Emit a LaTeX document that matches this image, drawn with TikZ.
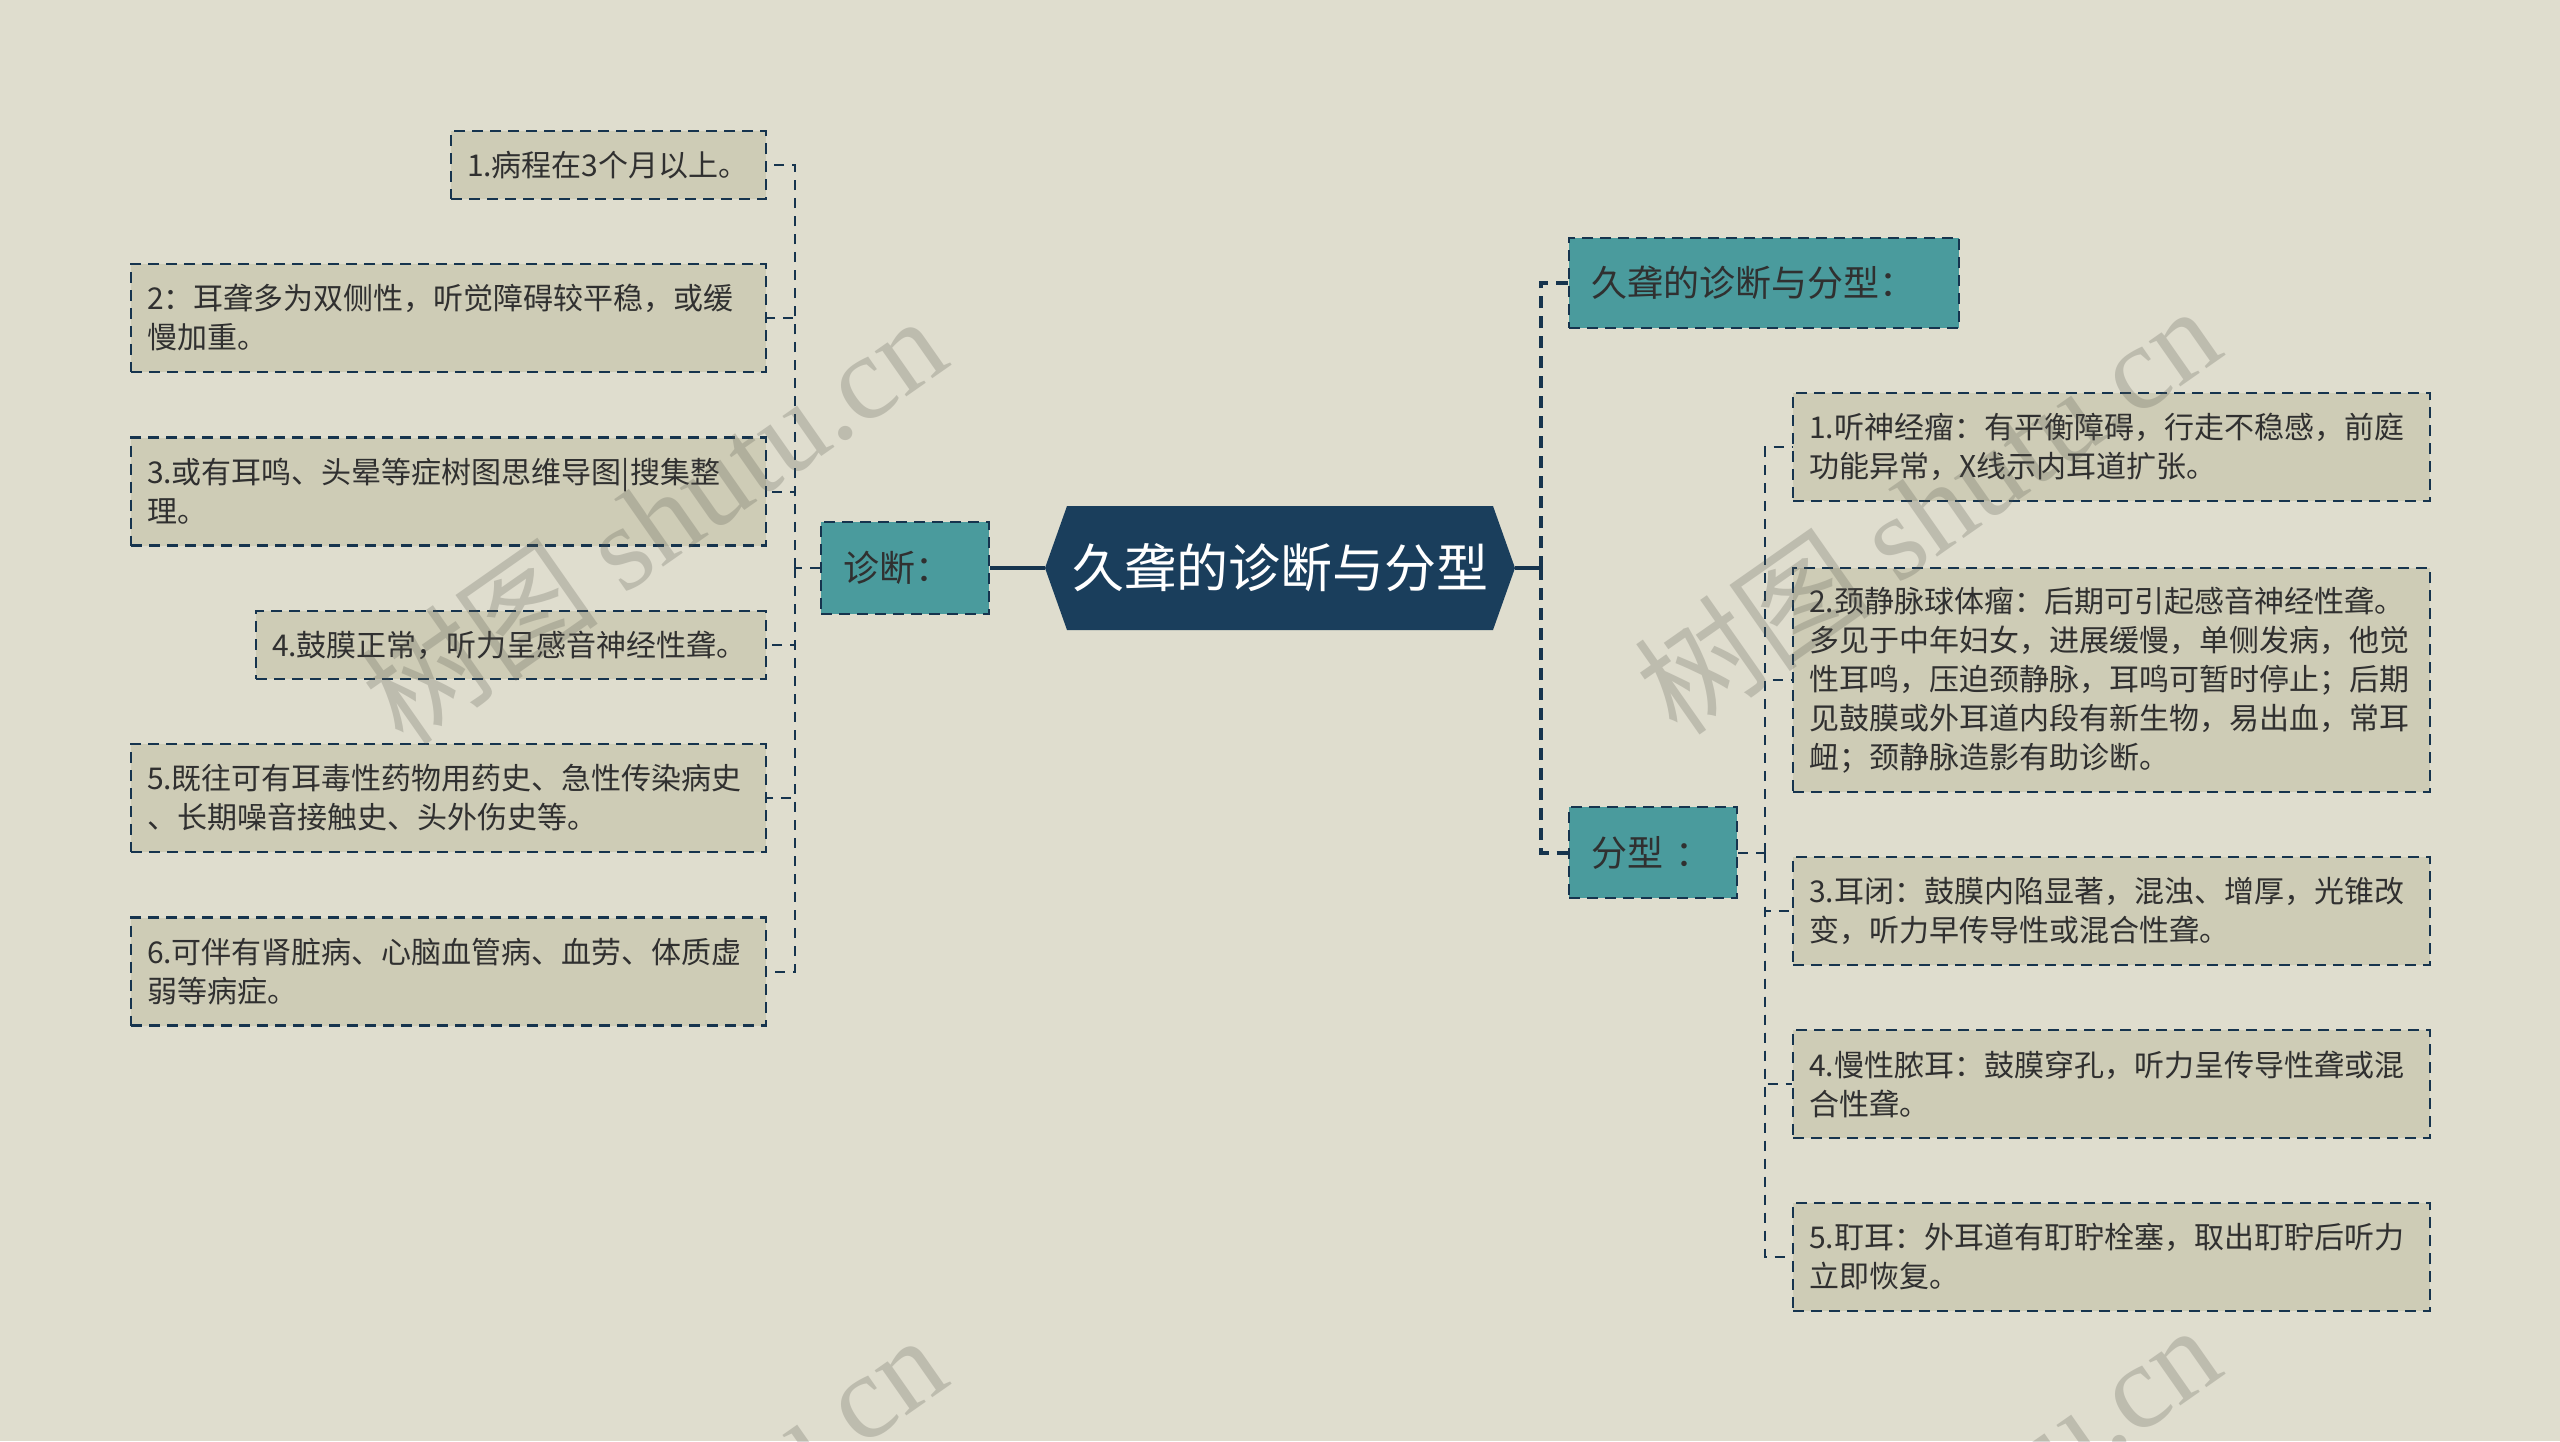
\documentclass[tikz,border=0pt]{standalone}
\usepackage{fontspec}
\setmainfont{Noto Sans CJK SC}
\newfontfamily\wmserif{Liberation Serif}
\newfontfamily\wmcjk{Noto Sans CJK SC}
\definecolor{bgc}{HTML}{DFDDCE}
\definecolor{leafc}{HTML}{CECCB6}
\definecolor{tealc}{HTML}{4A9B9D}
\definecolor{rootc}{HTML}{1A3E5C}
\definecolor{linec}{HTML}{16344E}
\definecolor{txtc}{HTML}{303030}
\definecolor{wmc}{HTML}{5A5A50}
\begin{document}
\begin{tikzpicture}[x=0.5pt,y=-0.5pt,
  leaf/.style={draw=linec, line width=1.2pt, dash pattern=on 5.5pt off 3.5pt,
    fill=leafc, text=txtc, font=\fontsize{15}{19.5}\selectfont, align=left,
    inner xsep=8pt, inner ysep=0pt},
  tealbox/.style={draw=linec, line width=1.2pt, dash pattern=on 5.5pt off 3.5pt,
    fill=tealc, text=txtc, font=\fontsize{18}{22}\selectfont, align=left,
    inner xsep=11pt, inner ysep=0pt},
  conn/.style={draw=linec, line width=1pt, dash pattern=on 5pt off 4pt},
  mainline/.style={draw=linec, line width=2pt},
  maindash/.style={draw=linec, line width=2pt, dash pattern=on 6pt off 4pt},
  wm/.style={text=wmc, opacity=0.25, rotate=35, inner sep=0pt}
]
\fill[bgc] (0,0) rectangle (2560,1441);
\useasboundingbox (0,0) rectangle (2560,1441);

% root hexagon
\fill[rootc] (1045,568) -- (1067,506) -- (1493,506) -- (1515,568) -- (1493,630) -- (1067,630) -- cycle;
\node[minimum width=235pt, minimum height=62pt, inner sep=0pt, text=white,
  font=\fontsize{26}{30}\selectfont] (root) at (1280,568) {久聋的诊断与分型};

% first level
\node[tealbox, minimum height=46pt, text width=62pt] (diag) at (905,568) {诊断：};
\node[tealbox, minimum height=45pt, text width=173pt] (t1) at (1764,283) {久聋的诊断与分型：};
\node[tealbox, minimum height=45.5pt, text width=62pt] (t2) at (1653,852.5) {分型 ：};

% left leaves
\node[leaf, minimum height=34pt, text width=141.5pt] (l1) at (608.5,165) {1.病程在3个月以上。};
\node[leaf, minimum height=54pt, text width=301.5pt] (l2) at (448.5,318) {2：耳聋多为双侧性，听觉障碍较平稳，或缓\\慢加重。};
\node[leaf, minimum height=54pt, text width=301.5pt] (l3) at (448.5,491.5) {3.或有耳鸣、头晕等症树图思维导图|搜集整\\理。};
\node[leaf, minimum height=34pt, text width=239pt] (l4) at (511,645) {4.鼓膜正常，听力呈感音神经性聋。};
\node[leaf, minimum height=54pt, text width=301.5pt] (l5) at (448.5,798) {5.既往可有耳毒性药物用药史、急性传染病史\\、长期噪音接触史、头外伤史等。};
\node[leaf, minimum height=54pt, text width=301.5pt] (l6) at (448.5,971.5) {6.可伴有肾脏病、心脑血管病、血劳、体质虚\\弱等病症。};

% right leaves
\node[leaf, minimum height=54pt, text width=302.5pt] (r1) at (2111.5,447) {1.听神经瘤：有平衡障碍，行走不稳感，前庭\\功能异常，X线示内耳道扩张。};
\node[leaf, minimum height=112pt, text width=302.5pt] (r2) at (2111.5,680) {2.颈静脉球体瘤：后期可引起感音神经性聋。\\多见于中年妇女，进展缓慢，单侧发病，他觉\\性耳鸣，压迫颈静脉，耳鸣可暂时停止；后期\\见鼓膜或外耳道内段有新生物，易出血，常耳\\衄；颈静脉造影有助诊断。};
\node[leaf, minimum height=54pt, text width=302.5pt] (r3) at (2111.5,911) {3.耳闭：鼓膜内陷显著，混浊、增厚，光锥改\\变，听力早传导性或混合性聋。};
\node[leaf, minimum height=54pt, text width=302.5pt] (r4) at (2111.5,1084) {4.慢性脓耳：鼓膜穿孔，听力呈传导性聋或混\\合性聋。};
\node[leaf, minimum height=54pt, text width=302.5pt] (r5) at (2111.5,1257) {5.耵耳：外耳道有耵聍栓塞，取出耵聍后听力\\立即恢复。};

% junction coordinates
\coordinate (jr) at (1541,568);
\coordinate (jl) at (795,568);
\coordinate (jf) at (1765,852.5);

% connectors
\draw[mainline] (root.west) -- (diag.east);
\draw[mainline] (root.east) -- (jr);
\draw[maindash] (jr) |- (t1.west);
\draw[maindash] (jr) |- (t2.west);
\draw[conn] (diag.west) -- (jl);
\foreach \n in {l1,l2,l3,l4,l5,l6} { \draw[conn] (jl) |- (\n.east); }
\draw[conn] (t2.east) -- (jf);
\foreach \n in {r1,r2,r3,r4,r5} { \draw[conn] (jf) |- (\n.west); }

% watermarks
\node[wm] (wm1) at (653,519) {\wmcjk\fontsize{60}{60}\selectfont 树图 \wmserif shutu.cn};
\node[wm] (wm2) at (1927,509) {\wmcjk\fontsize{60}{60}\selectfont 树图 \wmserif shutu.cn};
\node[wm] (wm3) at (653,1538) {\wmcjk\fontsize{60}{60}\selectfont 树图 \wmserif shutu.cn};
\node[wm] (wm4) at (1927,1528) {\wmcjk\fontsize{60}{60}\selectfont 树图 \wmserif shutu.cn};
\end{tikzpicture}
\end{document}
